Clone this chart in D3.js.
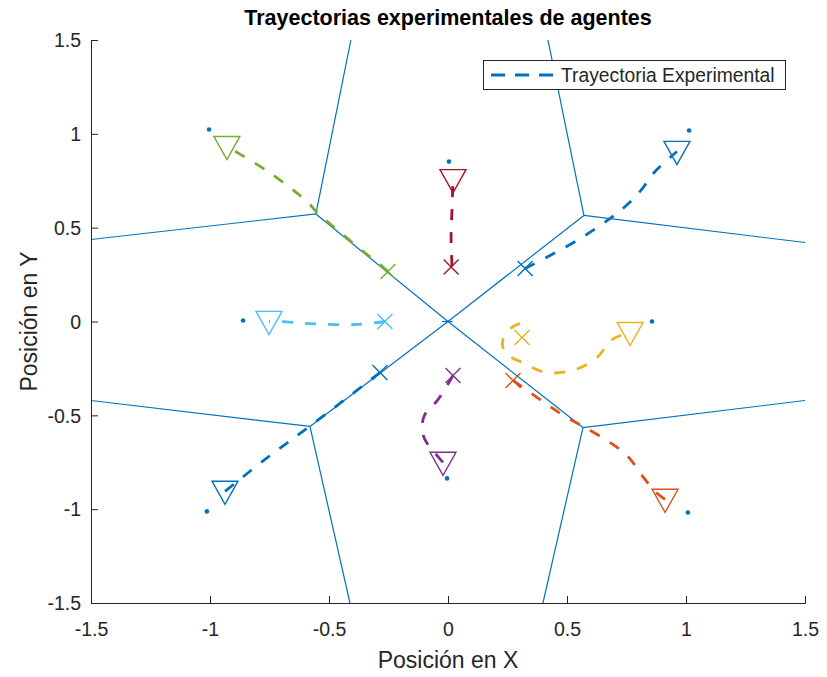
<!DOCTYPE html>
<html>
<head>
<meta charset="utf-8">
<script src="https://cdn.jsdelivr.net/npm/d3@7"></script>
<style>
  body { margin: 0; background: #fff; }
  svg { display: block; font-family: "Liberation Sans", Arial, Helvetica, sans-serif; }
</style>
</head>
<body>
<svg id="chart" width="827" height="677"></svg>
<script>
// Axis ticks
const xTicks = [-1.5, -1, -0.5, 0, 0.5, 1, 1.5];
const yTicks = [-1.5, -1, -0.5, 0, 0.5, 1, 1.5];

// Region boundaries (segments of the partition)
const edges = [
  [[0, 0], [-0.555, 0.573]],
  [[0, 0], [0.571, 0.565]],
  [[0, 0], [-0.580, -0.559]],
  [[0, 0], [0.567, -0.565]],
  [[-0.025, 0], [0.02, 0]],
  [[-0.555, 0.573], [-0.408, 1.5]],
  [[-0.555, 0.573], [-1.5, 0.437]],
  [[0.571, 0.565], [0.420, 1.5]],
  [[0.571, 0.565], [1.5, 0.421]],
  [[-0.580, -0.559], [-1.5, -0.421]],
  [[-0.580, -0.559], [-0.412, -1.5]],
  [[0.567, -0.565], [1.5, -0.421]],
  [[0.567, -0.565], [0.399, -1.5]]
];

// Target positions
const targets = [
  [-1.004, 1.023], [0.004, 0.852], [1.013, 1.018],
  [-0.861, 0.005], [0.857, 0.0],
  [-0.004, -0.836], [-1.013, -1.012], [1.008, -1.018]
];

// Agent colors
const colors = ["#0072BD", "#0072BD", "#D95319", "#EDB120", "#7E2F8E", "#77AC30", "#4DBEEE", "#A2142F"];

// Trajectories: from the cross (start) to the triangle (end)
const trajBlueNE = [[0.324, 0.282], [0.563, 0.448], [0.735, 0.602], [0.807, 0.693], [0.870, 0.799], [0.962, 0.906]];
const trajBlueSW = [[-0.286, -0.272], [-0.571, -0.549], [-0.769, -0.735], [-0.937, -0.905]];
const trajOrange = [[0.273, -0.314], [0.387, -0.416], [0.492, -0.506], [0.576, -0.565], [0.681, -0.645], [0.756, -0.719], [0.815, -0.820], [0.870, -0.906], [0.912, -0.948]];
const trajYellow = [[0.303, -0.011], [0.273, -0.027], [0.231, -0.096], [0.239, -0.165], [0.311, -0.218], [0.416, -0.272], [0.534, -0.256], [0.626, -0.192], [0.689, -0.096], [0.765, -0.059]];
const trajPurple = [[0.021, -0.288], [-0.042, -0.416], [-0.097, -0.495], [-0.109, -0.565], [-0.097, -0.629], [-0.067, -0.682], [-0.021, -0.751]];
const trajGreen = [[-0.252, 0.266], [-0.550, 0.581], [-0.588, 0.634], [-0.756, 0.799], [-0.929, 0.932]];
const trajCyan = [[-0.265, 0.0], [-0.391, -0.016], [-0.580, -0.011], [-0.706, 0.0], [-0.752, 0.0]];
const trajRed = [[0.017, 0.295], [0.013, 0.45], [0.017, 0.6], [0.021, 0.755]];

// Cross markers (start points)
const crosses = [[0.324, 0.282], [-0.286, -0.272], [0.273, -0.314], [0.311, -0.085], [0.021, -0.288], [-0.252, 0.266], [-0.265, 0.0], [0.013, 0.290]];
// Triangle markers (end points)
const triangles = [[0.962, 0.906], [-0.937, -0.905], [0.912, -0.948], [0.765, -0.059], [-0.021, -0.751], [-0.929, 0.932], [-0.752, 0.0], [0.021, 0.755]];

const svg = d3.select("#chart");
const margin = { left: 91, right: 805, top: 40, bottom: 603 };

const x = d3.scaleLinear().domain([-1.5, 1.5]).range([margin.left, margin.right]);
const y = d3.scaleLinear().domain([-1.5, 1.5]).range([margin.bottom, margin.top]);

// Clip for plot area
svg.append("defs").append("clipPath").attr("id", "plotClip")
  .append("rect").attr("x", margin.left).attr("y", margin.top)
  .attr("width", margin.right - margin.left).attr("height", margin.bottom - margin.top);

const plot = svg.append("g").attr("clip-path", "url(#plotClip)");

// Partition edges
plot.selectAll("line.edge").data(edges).enter().append("line")
  .attr("class", "edge")
  .attr("x1", d => x(d[0][0])).attr("y1", d => y(d[0][1]))
  .attr("x2", d => x(d[1][0])).attr("y2", d => y(d[1][1]))
  .attr("stroke", "#0072BD").attr("stroke-width", 1.2);

// Trajectories
const trajs = [trajBlueNE, trajBlueSW, trajOrange, trajYellow, trajPurple, trajGreen, trajCyan, trajRed];
const line = d3.line().x(d => x(d[0])).y(d => y(d[1])).curve(d3.curveCatmullRom.alpha(0.5));

trajs.forEach((t, i) => {
  plot.append("path").datum(t)
    .attr("d", line)
    .attr("fill", "none")
    .attr("stroke", colors[i])
    .attr("stroke-width", 2.8)
    .attr("stroke-dasharray", "11,12");
});

// Triangle markers (pointing down)
const triSize = 13;
triangles.forEach((p, i) => {
  const cx = x(p[0]), cy = y(p[1]);
  plot.append("path")
    .attr("d", `M${cx - triSize},${cy - triSize * 0.78} L${cx + triSize},${cy - triSize * 0.78} L${cx},${cy + triSize * 1.0} Z`)
    .attr("fill", "none").attr("stroke", colors[i]).attr("stroke-width", 1.4);
});

// Cross markers
const cr = 7.5;
crosses.forEach((p, i) => {
  const cx = x(p[0]), cy = y(p[1]);
  plot.append("path")
    .attr("d", `M${cx - cr},${cy - cr} L${cx + cr},${cy + cr} M${cx - cr},${cy + cr} L${cx + cr},${cy - cr}`)
    .attr("stroke", colors[i]).attr("stroke-width", 1.4);
});

// Target dots
plot.selectAll("circle.target").data(targets).enter().append("circle")
  .attr("class", "target")
  .attr("cx", d => x(d[0])).attr("cy", d => y(d[1]))
  .attr("r", 2.3).attr("fill", "#0072BD");

// Axes
const axisColor = "#262626";
const fmt = d => String(d);
const xAxis = svg.append("g").attr("transform", `translate(0,${margin.bottom})`)
  .call(d3.axisBottom(x).tickValues(xTicks).tickSize(-7).tickPadding(19).tickFormat(fmt));
const yAxis = svg.append("g").attr("transform", `translate(${margin.left},0)`)
  .call(d3.axisLeft(y).tickValues(yTicks).tickSize(-7).tickPadding(10).tickFormat(fmt));

[xAxis, yAxis].forEach(a => {
  a.select(".domain").attr("stroke", axisColor).attr("stroke-width", 1);
  a.selectAll(".tick line").attr("stroke", axisColor).attr("stroke-width", 1);
  a.selectAll(".tick text").attr("fill", axisColor).style("font-size", "19.5px")
    .style("font-family", "'Liberation Sans', Arial, sans-serif");
});
yAxis.selectAll(".tick text").attr("dy", "0.35em");

// Title
svg.append("text").attr("x", (margin.left + margin.right) / 2).attr("y", 25)
  .attr("text-anchor", "middle").attr("font-weight", "bold")
  .attr("font-size", "21.5px").attr("fill", "#000")
  .text("Trayectorias experimentales de agentes");

// Axis labels
svg.append("text").attr("x", (margin.left + margin.right) / 2).attr("y", 668)
  .attr("text-anchor", "middle").attr("font-size", "23px").attr("fill", axisColor)
  .text("Posición en X");
svg.append("text")
  .attr("transform", `translate(37,${(margin.top + margin.bottom) / 2}) rotate(-90)`)
  .attr("text-anchor", "middle").attr("font-size", "23px").attr("fill", axisColor)
  .text("Posición en Y");

// Legend
const lg = svg.append("g");
lg.append("rect").attr("x", 483.5).attr("y", 60.5).attr("width", 302).attr("height", 29)
  .attr("fill", "#fff").attr("stroke", axisColor).attr("stroke-width", 1);
lg.append("line").attr("x1", 491).attr("x2", 553).attr("y1", 75).attr("y2", 75)
  .attr("stroke", "#0072BD").attr("stroke-width", 2.8).attr("stroke-dasharray", "14,10");
lg.append("text").attr("x", 561).attr("y", 82).attr("font-size", "19.3px").attr("fill", axisColor)
  .text("Trayectoria Experimental");
</script>
</body>
</html>
